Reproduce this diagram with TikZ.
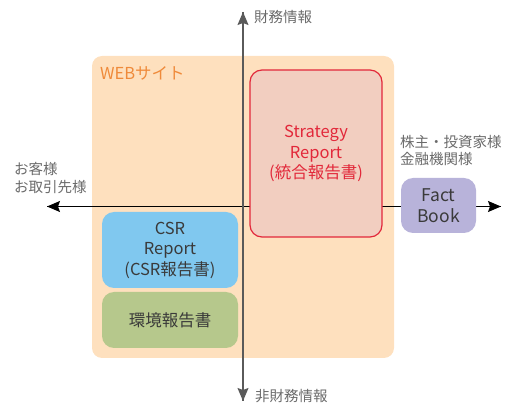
\documentclass[tikz,border=0pt]{standalone}
\usepackage{fontspec}
\setmainfont{Noto Sans CJK JP}
\usetikzlibrary{arrows.meta}
\definecolor{webfill}{HTML}{FEE0BE}
\definecolor{webtext}{HTML}{EF8A3A}
\definecolor{stratfill}{HTML}{F2CEC0}
\definecolor{stratline}{HTML}{E2283A}
\definecolor{csrfill}{HTML}{80C8EF}
\definecolor{envfill}{HTML}{B6C88C}
\definecolor{factfill}{HTML}{B8B3DA}
\definecolor{boxtext}{HTML}{3A3A3A}
\definecolor{labeltext}{HTML}{6A6A6A}
\definecolor{vaxis}{HTML}{5A5A5A}
\begin{document}
\begin{tikzpicture}[x=1pt,y=-1pt,
  boxtxt/.style={font=\fontsize{16.5}{20.5}\selectfont, align=center},
  panel/.style={rectangle, rounded corners=12pt, inner sep=0pt, boxtxt},
  lbl/.style={font=\fontsize{14.5}{17.5}\selectfont, text=labeltext, inner sep=0pt},
  axistip/.style={-{Stealth[length=13pt,width=11pt,inset=2pt]}}
]
\useasboundingbox (0,0) rectangle (512,403);
% web box
\node[rectangle, rounded corners=10pt, fill=webfill, minimum width=302pt, minimum height=302pt, inner sep=0pt] (web) at (243,207) {};
\node[anchor=west, inner sep=0pt, text=webtext, font=\fontsize{16.5}{18}\selectfont] (weblbl) at (100,73) {WEBサイト};
% axes end points
\coordinate (hl) at (47,206.5);
\coordinate (hr) at (501,206.5);
\coordinate (vt) at (243,12);
\coordinate (vb) at (243,401);
\draw[black, line width=1pt, axistip] (hr) -- (hl);
\draw[black, line width=1pt, axistip] (hl) -- (hr);
% boxes
\node[panel, fill=stratfill, draw=stratline, line width=1.2pt, text=stratline, minimum width=132pt, minimum height=167pt] (strat) at (316,153.5) {Strategy\\Report\\(統合報告書)};
\node[panel, fill=csrfill, text=boxtext, minimum width=136pt, minimum height=76pt] (csr) at (170,250) {CSR\\Report\\(CSR報告書)};
\node[panel, fill=envfill, text=boxtext, minimum width=136pt, minimum height=56pt] (env) at (170,320) {環境報告書};
\node[panel, fill=factfill, text=boxtext, minimum width=75pt, minimum height=55pt, font=\fontsize{17.5}{21}\selectfont] (fact) at (438.5,205.5) {Fact\\Book};
% vertical axis
\draw[vaxis, line width=1.3pt, axistip] (vb) -- (vt);
\draw[vaxis, line width=1.3pt, axistip] (vt) -- (vb);
% labels
\node[lbl, anchor=west] (top) at (254,17) {財務情報};
\node[lbl, anchor=west] (bottom) at (255,396) {非財務情報};
\node[lbl, anchor=west, align=left] (right) at (400,150.5) {株主・投資家様\\金融機関様};
\node[lbl, anchor=west, align=left] (left) at (14,178) {お客様\\お取引先様};
\end{tikzpicture}
\end{document}
